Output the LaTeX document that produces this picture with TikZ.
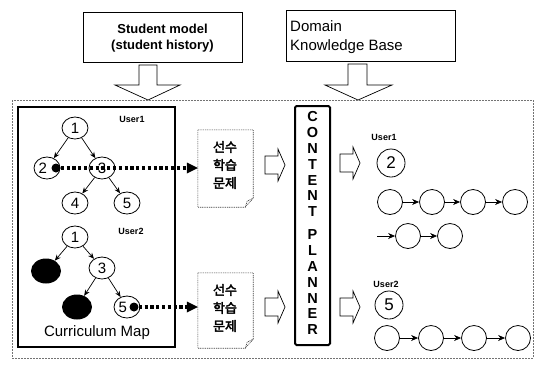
\documentclass[tikz,border=0pt]{standalone}
\usepackage{fontspec}
\setmainfont{Liberation Sans}
\newfontfamily\kr[FakeBold=2.5]{Noto Sans CJK KR}
\usetikzlibrary{arrows.meta,shapes.geometric}
\begin{document}
\begin{tikzpicture}[x=1pt,y=-1pt,
  every node/.style={inner sep=0pt},
  topbox/.style={draw,line width=0.8pt},
  tnode/.style={draw,ellipse,minimum width=26pt,minimum height=22pt,font=\fontsize{15}{15}\selectfont,line width=0.8pt,fill=white},
  bnode/.style={fill=black,ellipse,minimum width=30pt,minimum height=25pt},
  cnode/.style={draw,circle,minimum size=25pt,line width=0.8pt},
  bignum/.style={draw,circle,minimum size=28pt,font=\fontsize{17}{17}\selectfont,line width=0.8pt},
  ulabel/.style={font=\bfseries\fontsize{9}{9}\selectfont},
  treeedge/.style={-{Stealth[length=6pt,width=5pt]},line width=0.7pt},
  chain/.style={-{Stealth[length=7pt,width=6pt]},line width=0.8pt},
  dotline/.style={line width=3.2pt,dash pattern=on 3.2pt off 2.6pt,-{Triangle[length=11pt,width=11pt,line width=0pt,sep=0pt]}},
  bigdot/.style={circle,fill=black,minimum size=9pt},
  hollow/.style={draw,line width=0.7pt,fill=white},
  docline/.style={draw,black!75,dash pattern=on 1pt off 0.8pt,line width=0.6pt},
  docbox/.style={minimum width=55pt,minimum height=77pt},
  kortext/.style={align=center,font=\kr\fontsize{13}{18}\selectfont},
  letter/.style={font=\bfseries\fontsize{14.5}{14.5}\selectfont}
]
\useasboundingbox (0,0) rectangle (537,365);

% top boxes
\node[topbox,minimum width=159pt,minimum height=50pt] (sm) at (162.5,37) {};
\node[font=\bfseries\fontsize{13}{13}\selectfont] (smt1) at (162.5,29) {Student model};
\node[font=\bfseries\fontsize{13}{13}\selectfont] (smt2) at (162.5,46) {(student history)};
\node[topbox,minimum width=169pt,minimum height=51pt] (dk) at (370.5,35.5) {};
\node[font=\fontsize{15}{15}\selectfont,anchor=west] (dkt1) at (290,26) {Domain};
\node[font=\fontsize{15}{15}\selectfont,anchor=west] (dkt2) at (290,47) {Knowledge Base};

% big hollow down arrows
\draw[hollow] (139,65) -- (157,65) -- (157,85) -- (180,85) -- (148,100) -- (115,85) -- (139,85) -- cycle;
\draw[hollow] (348,64) -- (367,64) -- (367,85) -- (392,85) -- (358,100) -- (325,85) -- (348,85) -- cycle;

% outer frame
\draw[black!55,line width=0.6pt,dash pattern=on 2pt off 1pt] (12,100) rectangle (533,358);

% curriculum map frame
\node[draw,line width=2pt,minimum width=157pt,minimum height=240pt] (cm) at (96.5,227) {};
\node[font=\fontsize{15}{15}\selectfont] (cmt) at (97,333) {Curriculum Map};

% User1 tree
\node[ulabel] (u1l) at (132,119) {User1};
\node[tnode] (a1) at (75,128) {1};
\node[tnode] (a2) at (47,168) {2\hphantom{0}};
\node[tnode] (a3) at (102,168) {3};
\node[tnode] (a4) at (75,203) {4};
\node[tnode] (a5) at (127,203) {5};
\draw[treeedge] (a1) -- (a2);
\draw[treeedge] (a1) -- (a3);
\draw[treeedge] (a3) -- (a4);
\draw[treeedge] (a3) -- (a5);

% User2 tree
\node[ulabel] (u2l) at (131,231) {User2};
\node[tnode] (b1) at (75,237) {1};
\node[bnode] (b2) at (46,271) {};
\node[tnode] (b3) at (102,268) {3};
\node[bnode] (b4) at (77,307) {};
\node[tnode] (b5) at (127,307) {5\hphantom{0}};
\draw[treeedge] (b1) -- (b2);
\draw[treeedge] (b1) -- (b3);
\draw[treeedge] (b3) -- (b4);
\draw[treeedge] (b3) -- (b5);

% prerequisite documents
\node[docbox] (doc1) at (225.5,168.5) {};
\node[docbox,minimum height=75pt] (doc2) at (225.5,310.5) {};
\foreach \d in {doc1,doc2}{
  \draw[docline] (\d.north west) -- (\d.north east) -- ([yshift=9pt]\d.south east)
    -- ([xshift=-8pt]\d.south east) -- (\d.south west) -- cycle;
  \draw[docline] ([xshift=-8pt]\d.south east) -- ([xshift=-6pt,yshift=6pt]\d.south east) -- ([yshift=9pt]\d.south east);
}
\node[kortext] (k1) at (225,165) {선수\\학습\\문제};
\node[kortext] (k2) at (225,308) {선수\\학습\\문제};

% dotted arrows
\node[bigdot] (d1) at (56,168) {};
\node[bigdot] (d2) at (134,307) {};
\draw[dotline] (d1) -- (doc1.west |- d1);
\draw[dotline] (d2) -- (doc2.west |- d2);

% small hollow right arrows
\foreach \x/\y in {265/165,265/307,340/163,340/307}{
  \draw[hollow] (\x,\y-9) -- (\x+13,\y-9) -- (\x+13,\y-16) -- (\x+20,\y) -- (\x+13,\y+16)
    -- (\x+13,\y+9) -- (\x,\y+9) -- cycle;
}

% content planner
\node[draw,line width=2pt,rounded corners=1.5pt,minimum width=35pt,minimum height=239pt] (cp) at (312.5,225.5) {};
\foreach \ch [count=\i] in {C,O,N,T,E,N,T}
  \node[letter] (pa\i) at (312.5,{117+15.8*(\i-1)}) {\ch};
\foreach \ch [count=\i] in {P,L,A,N,N,E,R}
  \node[letter] (pb\i) at (312.5,{235+15.8*(\i-1)}) {\ch};

% right side, User1
\node[ulabel] (r1l) at (384,137) {User1};
\node[bignum] (r2) at (391,163) {2};
\node[cnode] (c11) at (390,202) {};
\node[cnode] (c12) at (432,202) {};
\node[cnode] (c13) at (473,202) {};
\node[cnode] (c14) at (515,202) {};
\draw[chain] (c11) -- (c12);
\draw[chain] (c12) -- (c13);
\draw[chain] (c13) -- (c14);
\coordinate (s2) at (377,236);
\node[cnode] (c21) at (408,236) {};
\node[cnode] (c22) at (450,236) {};
\draw[chain] (s2) -- (c21);
\draw[chain] (c21) -- (c22);

% right side, User2
\node[ulabel] (r2l) at (386,284) {User2};
\node[bignum] (r5) at (389,305) {5};
\node[cnode] (c31) at (387,338) {};
\node[cnode] (c32) at (431,338) {};
\node[cnode] (c33) at (474,338) {};
\node[cnode] (c34) at (518,338) {};
\draw[chain] (c31) -- (c32);
\draw[chain] (c32) -- (c33);
\draw[chain] (c33) -- (c34);
\end{tikzpicture}
\end{document}
